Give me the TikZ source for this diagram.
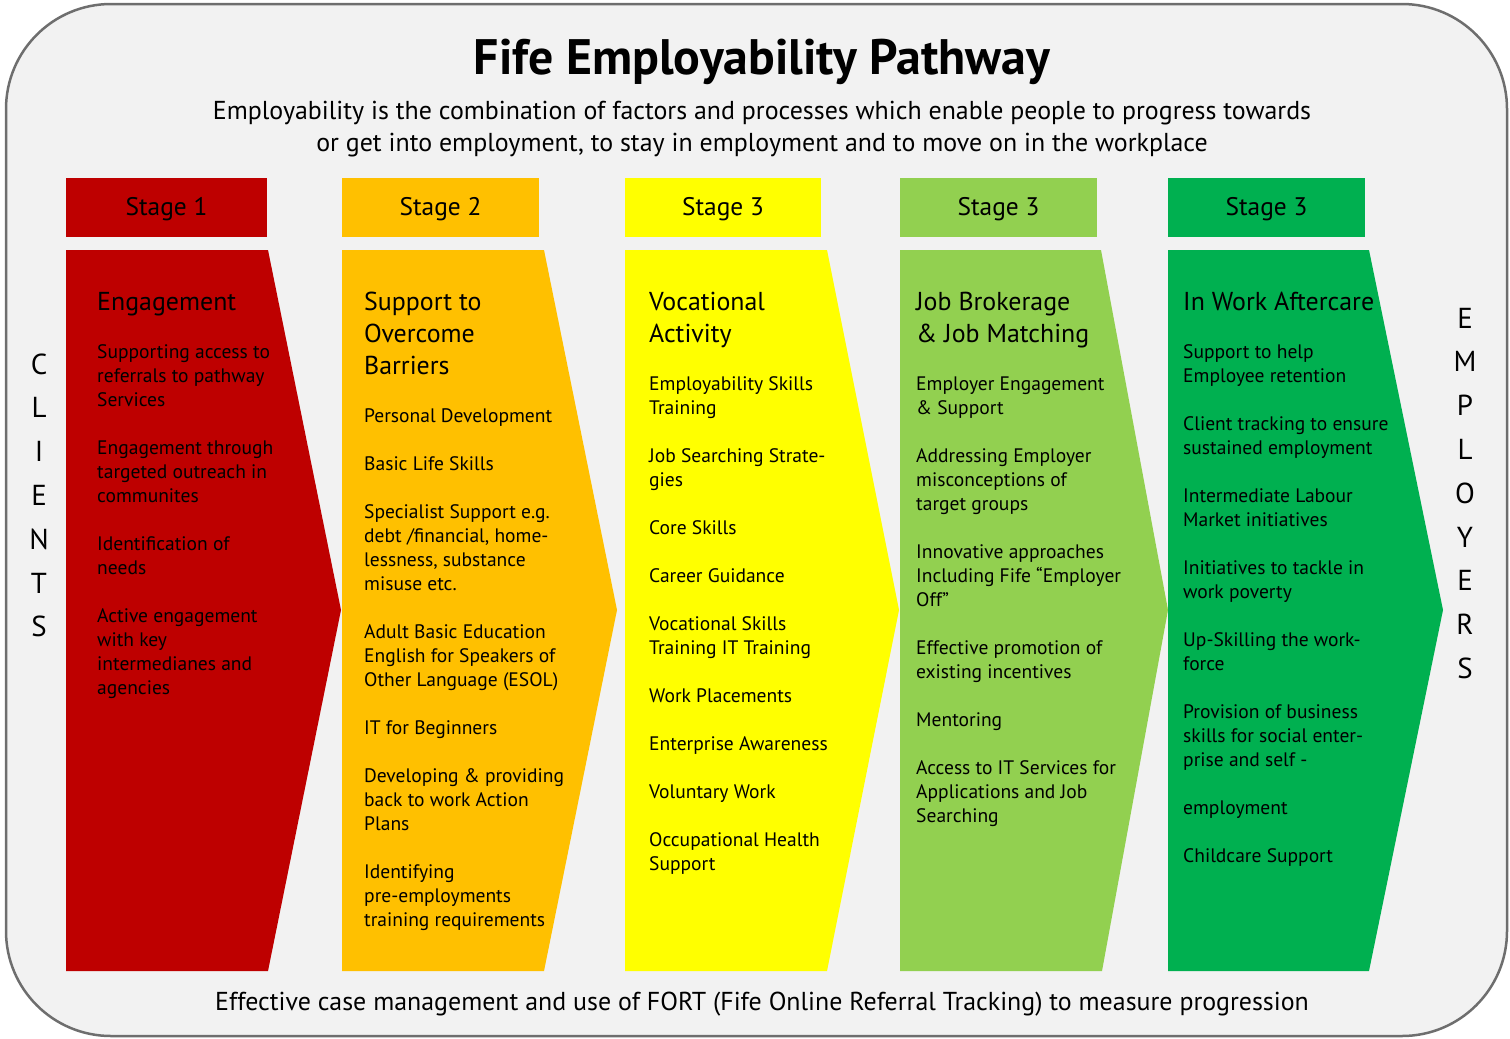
\documentclass[tikz,border=0pt]{standalone}
\usepackage{fontspec}
\setmainfont{PT Sans}
\definecolor{bgc}{HTML}{F2F2F2}
\definecolor{framec}{HTML}{6E6E6E}
\definecolor{redc}{HTML}{BE0000}
\definecolor{orangec}{HTML}{FFC000}
\definecolor{yellowc}{HTML}{FFFF00}
\definecolor{lgreenc}{HTML}{92D050}
\definecolor{greenc}{HTML}{00B050}
\tikzset{
  stagetext/.style={font=\fontsize{25.5}{30}\selectfont, anchor=base, inner sep=0},
  headtext/.style={font=\fontsize{26}{32}\selectfont, anchor=base west, align=left, inner sep=0},
  itemtext/.style={font=\fontsize{19.6}{24}\selectfont, anchor=base west, align=left, inner sep=0, yshift=2bp},
  sidetext/.style={font=\fontsize{29}{30}\selectfont, anchor=center, inner sep=0},
}
\begin{document}
\begin{tikzpicture}[x=1bp,y=-1bp]
\useasboundingbox (0,0) rectangle (1510,1038);
% frame
\draw[framec, line width=2.5bp, fill=bgc, rounded corners=105bp] (6,4) rectangle (1507,1036);
% title (anchor base = baseline of last line)
\node[font=\bfseries\fontsize{50}{56}\selectfont, anchor=base, inner sep=0] (title) at (762,74) {Fife Employability Pathway};
\node[font=\fontsize{26}{32}\selectfont, anchor=base, align=center, inner sep=0] (sub) at (762,151) {Employability is the combination of factors and processes which enable people to progress towards\\or get into employment, to stay in employment and to move on in the workplace};
% stage headers
\fill[redc] (66,178) rectangle (267,237);
\fill[orangec] (342,178) rectangle (539,237);
\fill[yellowc] (625,178) rectangle (821,237);
\fill[lgreenc] (900,178) rectangle (1097,237);
\fill[greenc] (1168,178) rectangle (1365,237);
\node[stagetext] (s1) at (166.5,215) {Stage 1};
\node[stagetext] (s2) at (440.5,215) {Stage 2};
\node[stagetext] (s3) at (723,215) {Stage 3};
\node[stagetext] (s4) at (998.5,215) {Stage 3};
\node[stagetext] (s5) at (1266.5,215) {Stage 3};
% arrows
\fill[redc] (66,250) -- (268,250) -- (341,610) -- (268,971) -- (66,971) -- cycle;
\fill[orangec] (342,250) -- (544,250) -- (617,610) -- (544,971) -- (342,971) -- cycle;
\fill[yellowc] (625,250) -- (827,250) -- (899,610) -- (827,971) -- (625,971) -- cycle;
\fill[lgreenc] (900,250) -- (1101,250) -- (1168,610) -- (1102,971) -- (900,971) -- cycle;
\fill[greenc] (1168,250) -- (1369,250) -- (1443,610) -- (1369,971) -- (1168,971) -- cycle;
% column 1 (coordinates = baseline of last line)
\node[headtext] (h1) at (97,310) {Engagement};
\node[itemtext] (a1) at (97,408) {Supporting access to\\referrals to pathway\\Services};
\node[itemtext] (a2) at (97,504) {Engagement through\\targeted outreach in\\communites};
\node[itemtext] (a3) at (97,576) {Identification of\\needs};
\node[itemtext] (a4) at (97,696) {Active engagement\\with key\\intermedianes and\\agencies};
% column 2
\node[headtext] (h2) at (364,374) {Support to\\Overcome\\Barriers};
\node[itemtext] (b1) at (364,424) {Personal Development};
\node[itemtext] (b2) at (364,472) {Basic Life Skills};
\node[itemtext] (b3) at (364,592) {Specialist Support e.g.\\debt /financial, home-\\lessness, substance\\misuse etc.};
\node[itemtext] (b4) at (364,688) {Adult Basic Education\\English for Speakers of\\Other Language (ESOL)};
\node[itemtext] (b5) at (364,736) {IT for Beginners};
\node[itemtext] (b6) at (364,832) {Developing \& providing\\back to work Action\\Plans};
\node[itemtext] (b7) at (364,928) {Identifying\\pre-employments\\training requirements};
% column 3
\node[headtext] (h3) at (649,342) {Vocational\\Activity};
\node[itemtext] (c1) at (649,416) {Employability Skills\\Training};
\node[itemtext] (c2) at (649,488) {Job Searching Strate-\\gies};
\node[itemtext] (c3) at (649,536) {Core Skills};
\node[itemtext] (c4) at (649,584) {Career Guidance};
\node[itemtext] (c5) at (649,656) {Vocational Skills\\Training IT Training};
\node[itemtext] (c6) at (649,704) {Work Placements};
\node[itemtext] (c7) at (649,752) {Enterprise Awareness};
\node[itemtext] (c8) at (649,800) {Voluntary Work};
\node[itemtext] (c9) at (649,872) {Occupational Health\\Support};
% column 4
\node[headtext] (h4) at (916,342) {Job Brokerage\\\& Job Matching};
\node[itemtext] (d1) at (916,416) {Employer Engagement\\\& Support};
\node[itemtext] (d2) at (916,512) {Addressing Employer\\misconceptions of\\target groups};
\node[itemtext] (d3) at (916,608) {Innovative approaches\\Including Fife “Employer\\Off”};
\node[itemtext] (d4) at (916,680) {Effective promotion of\\existing incentives};
\node[itemtext] (d5) at (916,728) {Mentoring};
\node[itemtext] (d6) at (916,824) {Access to IT Services for\\Applications and Job\\Searching};
% column 5
\node[headtext] (h5) at (1183,310) {In Work Aftercare};
\node[itemtext] (e1) at (1183,384) {Support to help\\Employee retention};
\node[itemtext] (e2) at (1183,456) {Client tracking to ensure\\sustained employment};
\node[itemtext] (e3) at (1183,528) {Intermediate Labour\\Market initiatives};
\node[itemtext] (e4) at (1183,600) {Initiatives to tackle in\\work poverty};
\node[itemtext] (e5) at (1183,672) {Up-Skilling the work-\\force};
\node[itemtext] (e6) at (1183,768) {Provision of business\\skills for social enter-\\prise and self -};
\node[itemtext] (e7) at (1183,816) {employment};
\node[itemtext] (e8) at (1183,864) {Childcare Support};
% side labels
\foreach \l [count=\i from 0] in {C,L,I,E,N,T,S}
  \node[sidetext] (cl\i) at (39,364+43.8*\i) {\l};
\foreach \l [count=\i from 0] in {E,M,P,L,O,Y,E,R,S}
  \node[sidetext] (em\i) at (1465,318+43.8*\i) {\l};
% bottom
\node[font=\fontsize{26}{32}\selectfont, anchor=base, inner sep=0] (foot) at (762,1010) {Effective case management and use of FORT (Fife Online Referral Tracking) to measure progression};
\end{tikzpicture}
\end{document}
